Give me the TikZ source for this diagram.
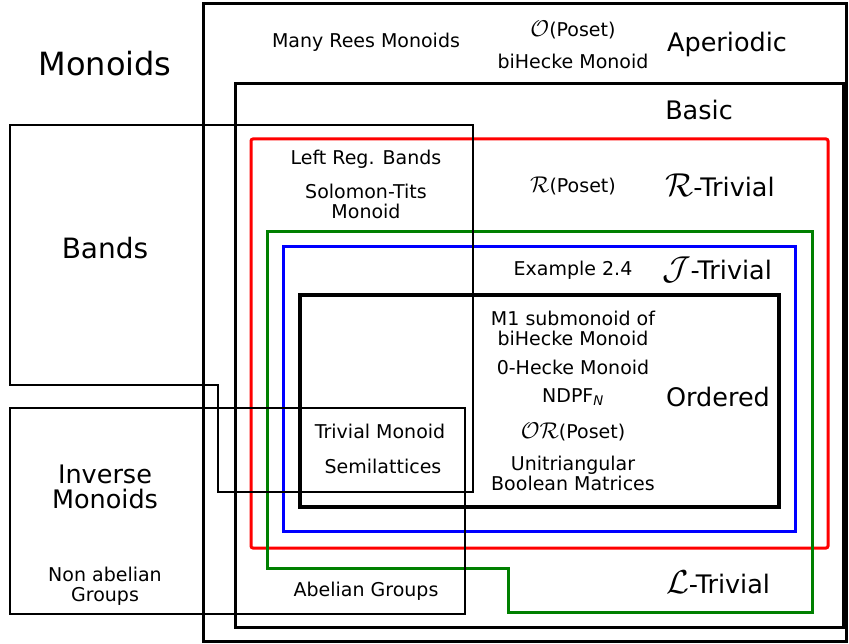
\documentclass[tikz,border=0pt]{standalone}
\usepackage{fix-cm}
\usepackage{fontspec}
\setmainfont{DejaVu Sans}
\usepackage{amsmath}
\usepackage{graphicx}
\usetikzlibrary{positioning}

\newcommand{\calsym}[2][1.2]{\scalebox{#1}{$\mathcal{#2}$}}

\tikzset{
  lbl/.style={font=\fontsize{19}{20}\selectfont, align=center, inner sep=0pt},
  biglbl/.style={font=\fontsize{25.5}{25}\selectfont, align=center, inner sep=0pt},
  hugelbl/.style={font=\fontsize{32}{34}\selectfont, align=center, inner sep=0pt},
  boxline/.style={line width=3pt},
}

\begin{document}
\begin{tikzpicture}[x=1pt, y=-1pt]
        \useasboundingbox (0,0) rectangle (849,644);

        % Cajas de las clases
        \draw[boxline] (203,4) rectangle (846,641);
        \draw[boxline] (235,84) rectangle (843,627);
        \draw[boxline, red, rounded corners=2pt] (251,139) rectangle (828,548);
        \draw[boxline, green!50!black] (267,232) -- (812,232) -- (812,612) -- (508,612) -- (508,568) -- (267,568) -- cycle;
        \draw[boxline, blue] (283,247) rectangle (795,531);
        \draw[line width=4pt] (300,295) rectangle (779,507);

        % Bandas e inversos
        \draw[line width=1.2pt] (10,125) -- (473,125) -- (473,492) -- (218,492) -- (218,385) -- (10,385) -- cycle;
        \draw[line width=2.5pt] (10,408) rectangle (465,614);

        % Nombres de las clases
        \node[hugelbl] (monoids) at (105,64) {Monoids};
        \node[biglbl] (aperiodic) at (727,44) {Aperiodic};
        \node[biglbl] (basic) at (699,110) {Basic};
        \node[biglbl] (rtriv) at (720,185) {\calsym[1.3]{R}-Trivial};
        \node[biglbl] (jtriv) at (717,270) {\calsym[1.3]{J}-Trivial};
        \node[biglbl] (ordered) at (718,397) {Ordered};
        \node[biglbl] (ltriv) at (718,582) {\calsym[1.3]{L}-Trivial};
        \node[biglbl, font=\fontsize{28}{30}\selectfont] (bands) at (105,248) {Bands};
        \node[biglbl] (inverse) at (105,487) {Inverse\\Monoids};

        % Ejemplos
        \node[lbl] (rees) at (366,42) {Many Rees Monoids};
        \node[lbl] (oposet) at (573,30) {\calsym{O}(Poset)};
        \node[lbl] (bihecke) at (573,61) {biHecke Monoid};
        \node[lbl] (leftreg) at (366,159) {Left Reg. Bands};
        \node[lbl] (solomon) at (366,201) {Solomon-Tits\\Monoid};
        \node[lbl] (rposet) at (573,186) {\calsym{R}(Poset)};
        \node[lbl] (example) at (573,270) {Example 2.4};
        \node[lbl] (mone) at (573,328) {M1 submonoid of\\biHecke Monoid};
        \node[lbl] (zerohecke) at (573,367) {0-Hecke Monoid};
        \node[lbl] (ndpf) at (573,397) {NDPF$_{\text{\itshape N}}$};
        \node[lbl] (orposet) at (573,432) {\calsym{OR}(Poset)};
        \node[lbl] (unitri) at (573,473) {Unitriangular\\Boolean Matrices};
        \node[lbl] (trivial) at (380,431) {Trivial Monoid};
        \node[lbl] (semilat) at (383,466) {Semilattices};
        \node[lbl] (abelian) at (366,591) {Abelian Groups};
        \node[lbl] (nonabelian) at (105,586) {Non abelian\\Groups};
    \end{tikzpicture}
\end{document}
